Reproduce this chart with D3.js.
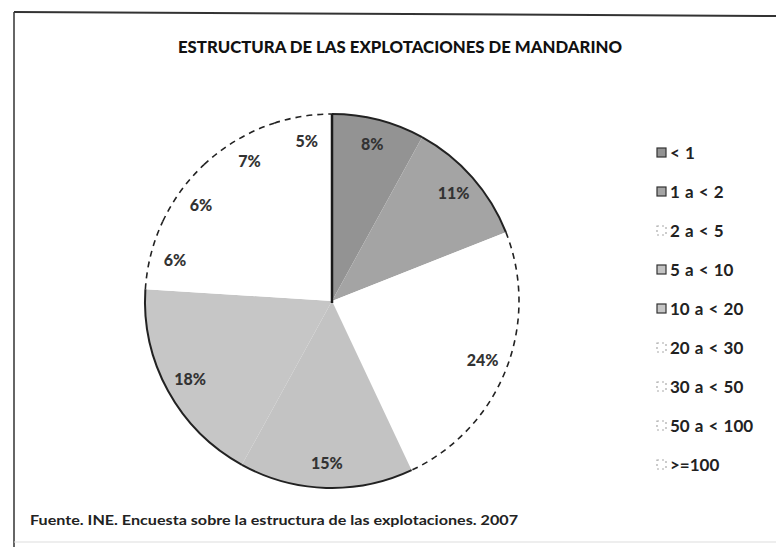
<!DOCTYPE html>
<html>
<head>
<meta charset="utf-8">
<script src="https://cdn.jsdelivr.net/npm/d3@7"></script>
<style>
  html, body { margin: 0; padding: 0; background: #fff; }
  svg { display: block; font-family: Lato, "Open Sans", sans-serif; }
</style>
</head>
<body>
<div id="chart"></div>
<script>
// Size classes (ha) and share of holdings, clockwise from 12 o'clock
const categories = ['< 1', '1 a < 2', '2 a < 5', '5 a <  10', '10 a < 20', '20 a < 30', '30 a < 50', '50 a < 100', '>=100'];
const shares     = [8, 11, 24, 15, 18, 6, 6, 7, 5];
const shareLabels = shares.map(d => d + '%');

const TITLE  = 'ESTRUCTURA DE LAS EXPLOTACIONES DE MANDARINO';
const SOURCE = 'Fuente. INE. Encuesta sobre la estructura de las explotaciones. 2007';

const W = 776, H = 547;
const CX = 332, CY = 301, R = 187;
const WHITE = '#ffffff';

const color = d3.scaleOrdinal()
  .domain(categories)
  .range(['#939393', '#a4a4a4', WHITE, '#c3c3c3', '#c6c6c6', WHITE, WHITE, WHITE, WHITE]);

const svg = d3.select('#chart').append('svg')
  .attr('width', W).attr('height', H);

// Scanned frame
svg.append('line').attr('x1', 14).attr('y1', 12).attr('x2', W).attr('y2', 16)
  .attr('stroke', '#333').attr('stroke-width', 2);
svg.append('line').attr('x1', 14).attr('y1', 12).attr('x2', 14).attr('y2', H)
  .attr('stroke', '#333').attr('stroke-width', 1.5);
svg.append('line').attr('x1', 14).attr('y1', 542).attr('x2', W).attr('y2', 542)
  .attr('stroke', '#ddd').attr('stroke-width', 1);

// Title
svg.append('text')
  .attr('x', 400).attr('y', 53)
  .attr('text-anchor', 'middle')
  .attr('font-size', 16).attr('font-weight', 900).attr('fill', '#111')
  .attr('textLength', 444).attr('lengthAdjust', 'spacingAndGlyphs')
  .text(TITLE);

// Pie
const data = categories.map((c, i) => ({ cat: c, value: shares[i], label: shareLabels[i] }));
const pie = d3.pie().value(d => d.value).sort(null);
const arcs = pie(data);
const arc = d3.arc().innerRadius(0).outerRadius(R);
const labelArc = d3.arc().innerRadius(162).outerRadius(162);

// outer edge only, no return stroke
function rimPath(d) {
  const p = d3.path();
  p.arc(0, 0, R, d.startAngle - Math.PI / 2, d.endAngle - Math.PI / 2);
  return p.toString();
}

const g = svg.append('g').attr('transform', `translate(${CX},${CY})`);

g.selectAll('path.slice')
  .data(arcs)
  .join('path')
  .attr('class', 'slice')
  .attr('d', arc)
  .attr('fill', d => color(d.data.cat));

// Outer rim: solid on grey slices, dashed on white ones
g.selectAll('path.rim')
  .data(arcs)
  .join('path')
  .attr('class', 'rim')
  .attr('d', rimPath)
  .attr('fill', 'none')
  .attr('stroke', '#222')
  .attr('stroke-width', d => color(d.data.cat) === WHITE ? 1.6 : 2)
  .attr('stroke-dasharray', d => color(d.data.cat) === WHITE ? '6 5' : null);

// Radius at 12 o'clock
g.append('line')
  .attr('x1', 0).attr('y1', -R).attr('x2', 0).attr('y2', 2)
  .attr('stroke', '#1a1a1a').attr('stroke-width', 2.5);

g.selectAll('text.pct')
  .data(arcs)
  .join('text')
  .attr('class', 'pct')
  .attr('transform', d => `translate(${labelArc.centroid(d)})`)
  .attr('text-anchor', 'middle')
  .attr('dy', '0.35em')
  .attr('font-size', 16).attr('font-weight', 900).attr('fill', '#333')
  .text(d => d.data.label);

// Legend
const y = d3.scalePoint().domain(categories).range([153, 465]);
const leg = svg.append('g');
const item = leg.selectAll('g').data(categories).join('g')
  .attr('transform', d => `translate(657,${y(d)})`);

item.append('rect')
  .attr('x', 0).attr('y', -5).attr('width', 9).attr('height', 9)
  .attr('fill', d => color(d))
  .attr('stroke', d => color(d) === WHITE ? '#aaa' : '#333')
  .attr('stroke-dasharray', d => color(d) === WHITE ? '2 3' : null)
  .attr('stroke-width', 1.2);

item.append('text')
  .attr('x', 13).attr('dy', '0.35em')
  .attr('font-size', 17).attr('font-weight', 700).attr('fill', '#222')
  .attr('word-spacing', 1)
  .text(d => d);

// Source note
svg.append('text')
  .attr('x', 30).attr('y', 525)
  .attr('font-size', 14).attr('font-weight', 700).attr('fill', '#222')
  .attr('textLength', 488).attr('lengthAdjust', 'spacingAndGlyphs')
  .text(SOURCE);
</script>
</body>
</html>
